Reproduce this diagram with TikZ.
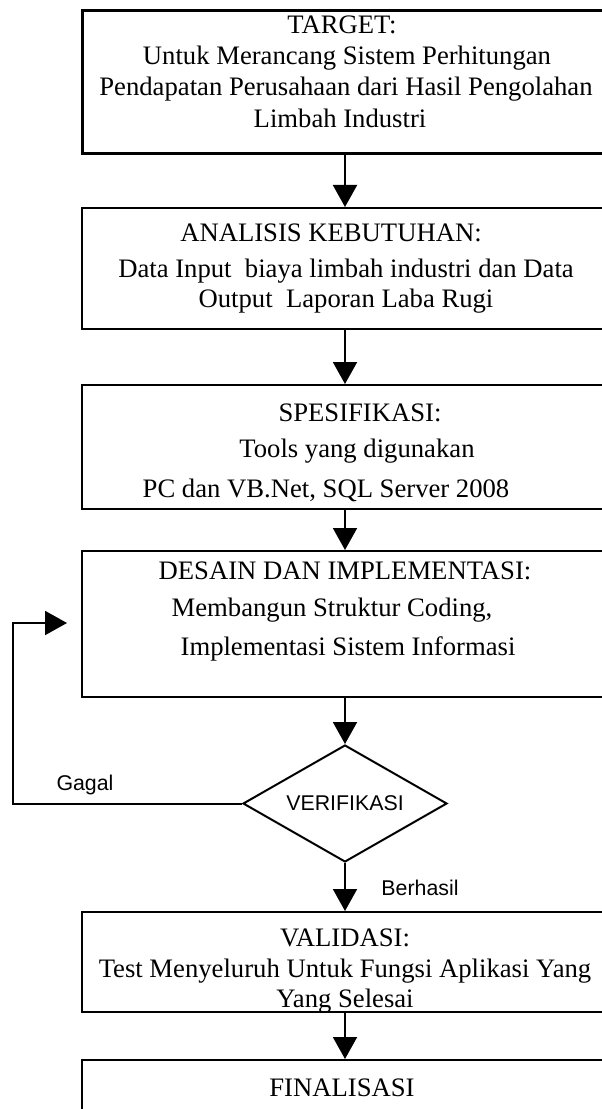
\documentclass[tikz,border=0pt]{standalone}
\usepackage{fontspec}
\setmainfont{Liberation Serif}
\newfontfamily\arialf{Liberation Sans}
\usetikzlibrary{arrows.meta,shapes.geometric}
\begin{document}
\begin{tikzpicture}[x=0.75pt,y=-0.75pt,
  box/.style={draw, line width=1.5pt, minimum width=394.5pt, inner sep=0pt},
  ln/.style={font=\fontsize{20}{23}\selectfont, inner sep=0pt},
  lab/.style={font=\arialf\fontsize{16}{19}\selectfont, inner sep=0pt},
  arr/.style={line width=1.5pt, -{Triangle[length=16.5pt,width=18pt]}},
  dec/.style={diamond, draw, line width=1.5pt, minimum width=153pt, minimum height=87.75pt, inner sep=0pt}]
\useasboundingbox (0,0) rectangle (602,1109);
% boxes
\node[box, line width=2.25pt, minimum height=107.25pt] (b1) at (345,82.5) {};
\node[box, minimum height=90.75pt] (b2) at (345,268.5) {};
\node[box, minimum height=93pt] (b3) at (345,447) {};
\node[box, minimum height=109.5pt] (b4) at (345,624) {};
\node[dec, label={[lab]center:VERIFIKASI}] (d) at (345,803.5) {};
\node[box, minimum height=75pt] (b5) at (345,962) {};
\node[box, minimum height=90pt] (b6) at (345,1120) {};
% texts
\node[ln] (t1a) at (342,25) {TARGET:};
\node[ln] (t1b) at (347,58) {Untuk Merancang Sistem Perhitungan};
\node[ln] (t1c) at (346,89) {Pendapatan Perusahaan dari Hasil Pengolahan};
\node[ln] (t1d) at (340,118) {Limbah Industri};
\node[ln] (t2a) at (331,233) {ANALISIS KEBUTUHAN:};
\node[ln] (t2b) at (346,271) {Data Input\ \ biaya limbah industri dan Data};
\node[ln] (t2c) at (346,301) {Output\ \ Laporan Laba Rugi};
\node[ln] (t3a) at (360,413) {SPESIFIKASI:};
\node[ln] (t3b) at (357,451) {Tools yang digunakan};
\node[ln] (t3c) at (326,490) {PC dan VB.Net, SQL Server 2008};
\node[ln] (t4a) at (345,571) {DESAIN DAN IMPLEMENTASI:};
\node[ln] (t4b) at (332,610) {Membangun Struktur Coding,};
\node[ln] (t4c) at (348,649) {Implementasi Sistem Informasi};
\node[ln] (t5a) at (345,938) {VALIDASI:};
\node[ln] (t5b) at (345,971) {Test Menyeluruh Untuk Fungsi Aplikasi Yang};
\node[ln] (t5c) at (345,1001) {Yang Selesai};
\node[ln] (t6a) at (342,1088) {FINALISASI};
\node[lab] (gagal) at (85,785) {Gagal};
\node[lab] (berhasil) at (420,888) {Berhasil};
% connectors
\coordinate (lp) at (67,623);
\draw[arr] (b1.south) -- (b2.north);
\draw[arr] (b2.south) -- (b3.north);
\draw[arr] (b3.south) -- (b4.north);
\draw[arr] (b4.south) -- (d.north);
\draw[arr] (d.south) -- (b5.north);
\draw[arr] (b5.south) -- (b6.north);
\draw[arr] (d.west) -- ++(-229,0) |- (lp);
\end{tikzpicture}
\end{document}
